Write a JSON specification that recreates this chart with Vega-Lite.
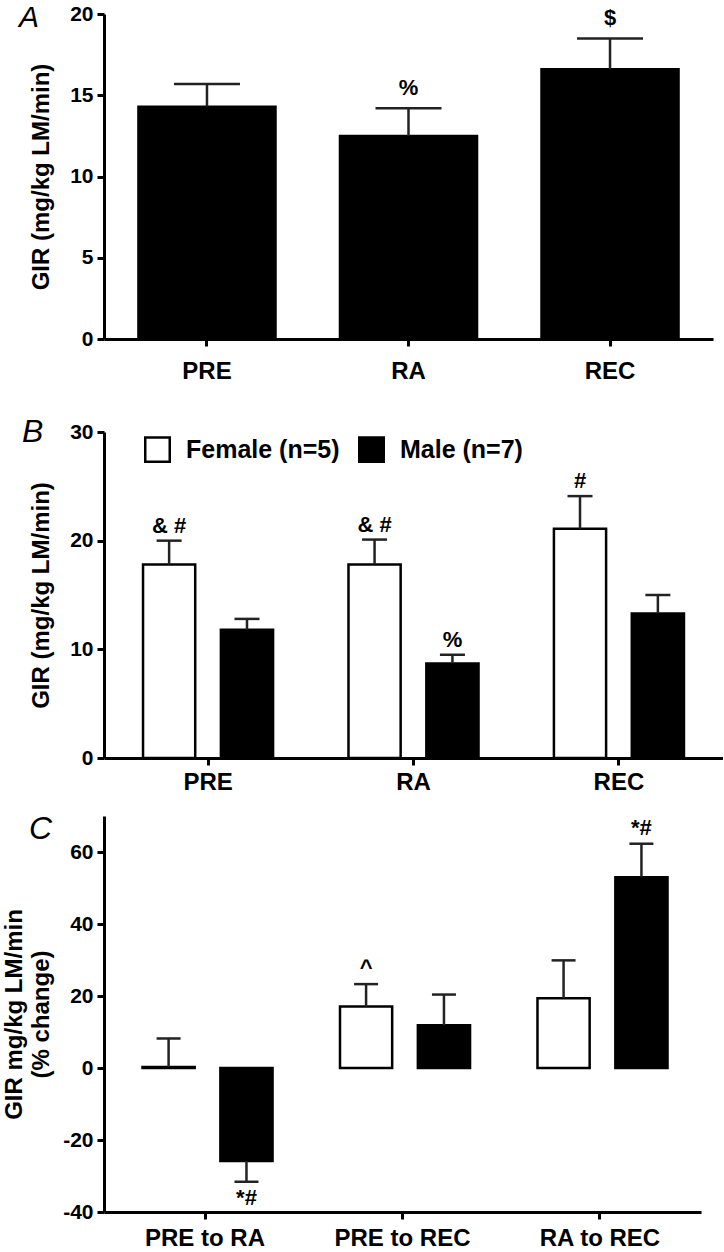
{
  "$schema": "https://vega.github.io/schema/vega-lite/v6.json",
  "background": "white",
  "padding": {"left": 2, "top": 3, "right": 0, "bottom": 0},
  "spacing": 19,
  "resolve": {"scale": {"fill": "independent"}, "legend": {"fill": "independent"}},
  "config": {
    "font": "Liberation Sans",
    "view": {"stroke": null},
    "axis": {
      "domainColor": "black", "domainWidth": 3, "tickColor": "black", "tickWidth": 3, "tickSize": 7,
      "labelFont": "Liberation Sans", "labelFontWeight": "bold", "labelFontSize": 21, "labelColor": "black",
      "labelPadding": 4, "grid": false,
      "titleFont": "Liberation Sans", "titleFontWeight": "bold", "titleFontSize": 24, "titleColor": "black"
    },
    "axisX": {"labelAngle": 0, "labelPadding": 5, "labelFontSize": 24},
    "axisY": {"minExtent": 48, "maxExtent": 48, "titlePadding": 3, "titleLineHeight": 27},
    "title": {"font": "Liberation Sans", "fontSize": 32, "fontWeight": "normal", "fontStyle": "italic", "color": "black", "anchor": "start", "frame": "group", "offset": 0}
  },
  "vconcat": [
    {
      "width": 609, "height": 325,
      "title": {"text": "A", "fontSize": 30, "dx": -85, "dy": 34},
      "data": {"values": [
        {"time": "PRE", "mean": 14.3, "err": 15.7, "ann": ""},
        {"time": "RA", "mean": 12.5, "err": 14.2, "ann": "%"},
        {"time": "REC", "mean": 16.6, "err": 18.5, "ann": "$"}
      ]},
      "encoding": {
        "x": {"field": "time", "type": "nominal", "sort": null, "scale": {"paddingInner": 0.32, "paddingOuter": 0.171}, "axis": {"title": null, "labelPadding": 13}}
      },
      "layer": [
        {
          "mark": {"type": "bar", "fill": "black", "stroke": "black", "strokeWidth": 2.5},
          "encoding": {"y": {"field": "mean", "type": "quantitative", "scale": {"domain": [0, 20], "nice": false}, "axis": {"values": [0, 5, 10, 15, 20], "title": ["", "GIR (mg/kg LM/min)"]}}}
        },
        {
          "mark": {"type": "rule", "color": "#222", "strokeWidth": 2.5},
          "encoding": {"y": {"field": "mean", "type": "quantitative"}, "y2": {"field": "err"}}
        },
        {
          "mark": {"type": "tick", "orient": "horizontal", "size": 66, "thickness": 2.5, "color": "#222", "opacity": 1},
          "encoding": {"y": {"field": "err", "type": "quantitative"}}
        },
        {
          "mark": {"type": "text", "dy": -13, "fontSize": 22, "fontWeight": "bold", "baseline": "alphabetic", "color": "black"},
          "encoding": {"y": {"field": "err", "type": "quantitative"}, "text": {"field": "ann"}}
        }
      ]
    },
    {
      "width": 619, "height": 326,
      "title": {"text": ["", "B"], "lineHeight": 14, "dx": -82, "dy": 32},
      "data": {"values": [
        {"time": "PRE", "sex": "Female", "mean": 17.8, "err": 20.0, "ann": "& #"},
        {"time": "PRE", "sex": "Male", "mean": 11.8, "err": 12.8, "ann": ""},
        {"time": "RA", "sex": "Female", "mean": 17.8, "err": 20.1, "ann": "& #"},
        {"time": "RA", "sex": "Male", "mean": 8.7, "err": 9.5, "ann": "%"},
        {"time": "REC", "sex": "Female", "mean": 21.1, "err": 24.1, "ann": "#"},
        {"time": "REC", "sex": "Male", "mean": 13.3, "err": 15.0, "ann": ""}
      ]},
      "encoding": {
        "x": {"field": "time", "type": "nominal", "sort": null, "scale": {"paddingInner": 0.367, "paddingOuter": 0.19}, "axis": {"title": null}},
        "xOffset": {"field": "sex", "type": "nominal", "sort": ["Female", "Male"], "scale": {"paddingInner": 0.33, "paddingOuter": 0}}
      },
      "layer": [
        {
          "mark": {"type": "bar", "stroke": "black", "strokeWidth": 2.5},
          "encoding": {
            "y": {"field": "mean", "type": "quantitative", "scale": {"domain": [0, 30], "nice": false}, "axis": {"values": [0, 10, 20, 30], "title": ["", "GIR (mg/kg LM/min)"]}},
            "fill": {"field": "sex", "type": "nominal", "scale": {"domain": ["Female", "Male"], "range": ["white", "black"]},
              "legend": {"orient": "none", "legendX": 40, "legendY": 4, "direction": "horizontal", "title": null,
                "symbolType": "square", "symbolSize": 600, "symbolStrokeColor": "black", "symbolStrokeWidth": 2.5,
                "labelFont": "Liberation Sans", "labelFontSize": 25, "labelFontWeight": "bold", "labelColor": "black",
                "labelOffset": 15, "columnPadding": 14,
                "labelExpr": "datum.label == 'Female' ? 'Female (n=5)' : 'Male (n=7)'"}}
          }
        },
        {
          "mark": {"type": "rule", "color": "#222", "strokeWidth": 2.5},
          "encoding": {"y": {"field": "mean", "type": "quantitative"}, "y2": {"field": "err"}}
        },
        {
          "mark": {"type": "tick", "orient": "horizontal", "size": 25, "thickness": 2.5, "color": "#222", "opacity": 1},
          "encoding": {"y": {"field": "err", "type": "quantitative"}}
        },
        {
          "mark": {"type": "text", "dy": -8, "fontSize": 22, "fontWeight": "bold", "baseline": "alphabetic", "color": "black"},
          "encoding": {"y": {"field": "err", "type": "quantitative"}, "text": {"field": "ann"}}
        }
      ]
    },
    {
      "width": 597, "height": 396,
      "title": {"text": "C", "dx": -75, "dy": 34},
      "data": {"values": [
        {"comp": "PRE to RA", "sex": "Female", "mean": 0.3, "err": 8.2, "ann": "", "annBelow": ""},
        {"comp": "PRE to RA", "sex": "Male", "mean": -25.8, "err": -31.6, "ann": "", "annBelow": "*#"},
        {"comp": "PRE to REC", "sex": "Female", "mean": 17.1, "err": 23.3, "ann": "^", "annBelow": ""},
        {"comp": "PRE to REC", "sex": "Male", "mean": 11.9, "err": 20.4, "ann": "", "annBelow": ""},
        {"comp": "RA to REC", "sex": "Female", "mean": 19.4, "err": 29.9, "ann": "", "annBelow": ""},
        {"comp": "RA to REC", "sex": "Male", "mean": 53.0, "err": 62.3, "ann": "*#", "annBelow": ""}
      ]},
      "encoding": {
        "x": {"field": "comp", "type": "nominal", "sort": null, "scale": {"paddingInner": 0.367, "paddingOuter": 0.195}, "axis": {"title": null, "labelPadding": 7}},
        "xOffset": {"field": "sex", "type": "nominal", "sort": ["Female", "Male"], "scale": {"paddingInner": 0.322, "paddingOuter": 0}}
      },
      "layer": [
        {
          "mark": {"type": "bar", "stroke": "black", "strokeWidth": 2.5},
          "encoding": {
            "y": {"field": "mean", "type": "quantitative", "scale": {"domain": [-40, 70], "nice": false, "zero": false},
              "axis": {"values": [-40, -20, 0, 20, 40, 60], "labelExpr": "datum.value + ''", "title": ["GIR mg/kg LM/min", "(% change)"]}},
            "fill": {"field": "sex", "type": "nominal", "scale": {"domain": ["Female", "Male"], "range": ["white", "black"]}, "legend": null}
          }
        },
        {
          "mark": {"type": "rule", "color": "black", "strokeWidth": 3},
          "encoding": {"y": {"datum": 0}}
        },
        {
          "mark": {"type": "rule", "color": "#222", "strokeWidth": 2.5},
          "encoding": {"y": {"field": "mean", "type": "quantitative"}, "y2": {"field": "err"}}
        },
        {
          "mark": {"type": "tick", "orient": "horizontal", "size": 24, "thickness": 2.5, "color": "#222", "opacity": 1},
          "encoding": {"y": {"field": "err", "type": "quantitative"}}
        },
        {
          "mark": {"type": "text", "dy": -9, "fontSize": 22, "fontWeight": "bold", "baseline": "alphabetic", "color": "black"},
          "encoding": {"y": {"field": "err", "type": "quantitative"}, "text": {"field": "ann"}}
        },
        {
          "mark": {"type": "text", "dy": 23, "fontSize": 22, "fontWeight": "bold", "baseline": "alphabetic", "color": "black"},
          "encoding": {"y": {"field": "err", "type": "quantitative"}, "text": {"field": "annBelow"}}
        }
      ]
    }
  ]
}
